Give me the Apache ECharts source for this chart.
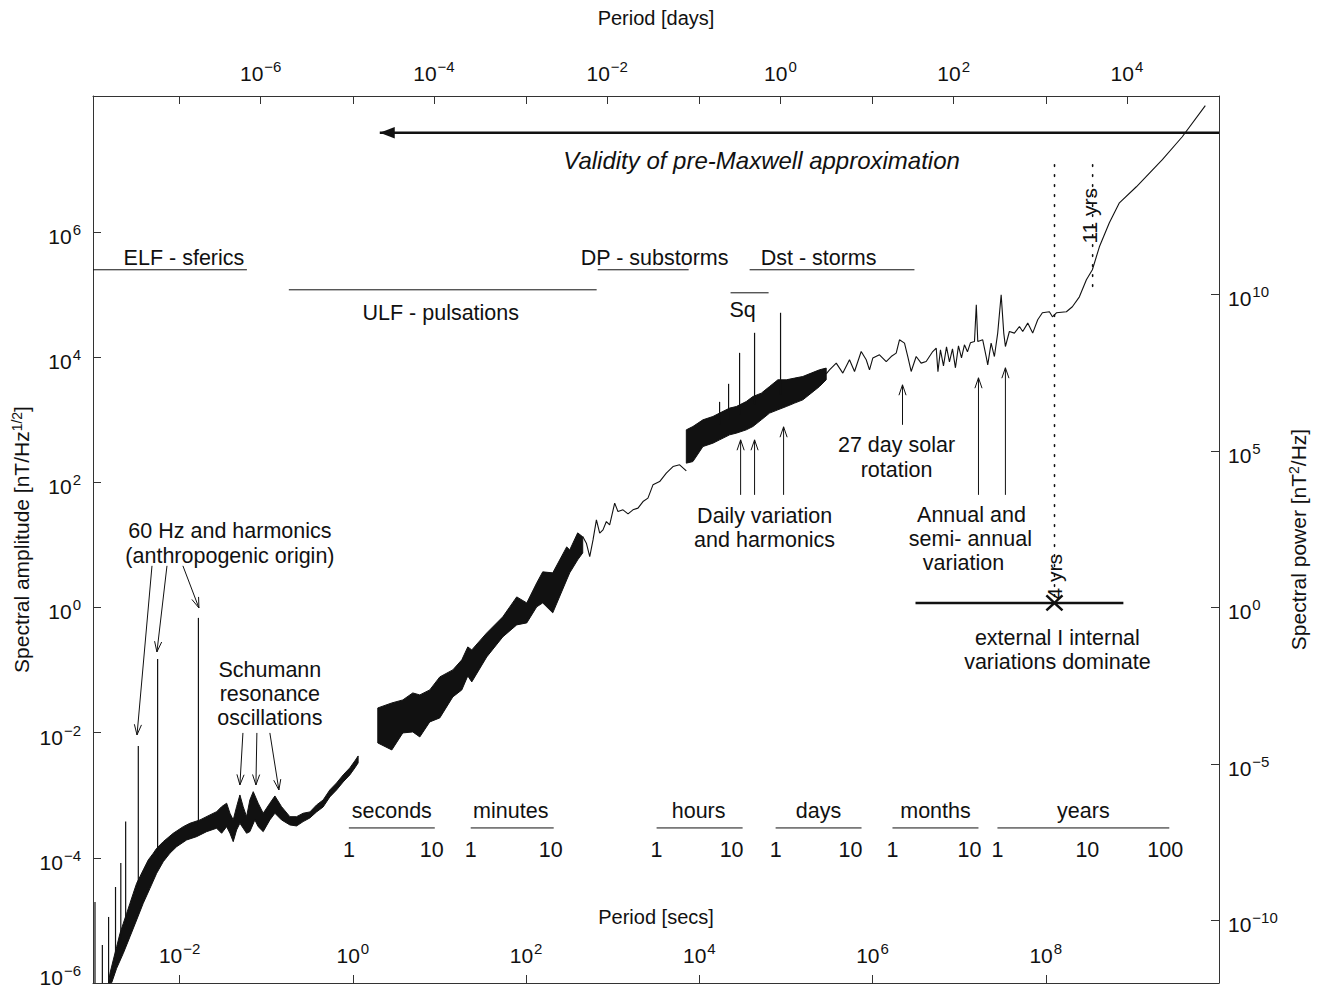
<!DOCTYPE html>
<html>
<head>
<meta charset="utf-8">
<title>Geomagnetic spectrum</title>
<script src="https://cdn.jsdelivr.net/npm/echarts/dist/echarts.min.js"></script>
<style>
  html, body { margin: 0; padding: 0; background: #ffffff; }
  #chart { width: 1321px; height: 990px; }
</style>
</head>
<body>
<div id="chart"></div>
<script>
// All values are log10 exponents:
// x = log10(period / s), y = log10(spectral amplitude / nT Hz^-1/2)

// ---- axis ticks (exponents) ----
const secTicks = [-2, 0, 2, 4, 6, 8];
const dayTicks = [-6, -4, -2, 0, 2, 4];
const ampTicks = [-6, -4, -2, 0, 2, 4, 6];
const ampLabelTicks = [-4, -2, 0, 2, 4, 6];
const ampCornerLabel = [[-3, -6]];          // the 10^-6 label sitting at the bottom-left corner
const powTicks = [-10, -5, 0, 5, 10];
const LOG_SEC_PER_DAY = 4.9365;

// ---- spectrum: ELF / Schumann band (upper and lower envelope) ----
const elfBandUpper = [
  [-2.820,-6.000],[-2.804,-5.845],[-2.766,-5.632],[-2.727,-5.420],[-2.688,-5.206],[-2.650,-5.046],
  [-2.611,-4.886],[-2.573,-4.726],[-2.535,-4.567],[-2.496,-4.407],[-2.458,-4.301],[-2.420,-4.194],
  [-2.362,-4.034],[-2.304,-3.927],[-2.265,-3.848],[-2.189,-3.742],[-2.074,-3.608],[-1.958,-3.502],
  [-1.881,-3.448],[-1.765,-3.395],[-1.650,-3.315],[-1.573,-3.263],
  [-1.515,-3.183],[-1.457,-3.128],[-1.419,-3.288],[-1.381,-3.395],[-1.342,-3.183],[-1.304,-2.996],
  [-1.266,-3.183],[-1.227,-3.343],[-1.189,-3.076],[-1.150,-2.943],[-1.093,-3.128],[-1.035,-3.288],
  [-0.958,-3.128],[-0.900,-3.012],[-0.823,-3.183],[-0.727,-3.343],[-0.650,-3.343],[-0.574,-3.288],
  [-0.496,-3.267],[-0.419,-3.156],[-0.343,-3.076],[-0.266,-2.916],[-0.188,-2.804],[-0.112,-2.676],
  [-0.035,-2.564],[0.023,-2.452],[0.061,-2.373]
];
const elfBandLower = [
  [-2.820,-6.000],[-2.784,-5.995],[-2.727,-5.765],[-2.650,-5.525],[-2.573,-5.260],[-2.496,-4.993],
  [-2.420,-4.726],[-2.342,-4.487],[-2.265,-4.247],[-2.189,-4.062],[-2.112,-3.927],[-2.034,-3.822],
  [-1.919,-3.715],[-1.804,-3.662],[-1.688,-3.582],
  [-1.573,-3.528],[-1.515,-3.608],[-1.457,-3.502],[-1.419,-3.608],[-1.381,-3.742],[-1.342,-3.555],
  [-1.304,-3.448],[-1.227,-3.608],[-1.189,-3.582],[-1.131,-3.395],[-1.093,-3.502],[-1.035,-3.582],
  [-0.958,-3.395],[-0.900,-3.288],[-0.823,-3.395],[-0.727,-3.475],[-0.650,-3.491],[-0.574,-3.422],
  [-0.496,-3.363],[-0.419,-3.267],[-0.343,-3.188],[-0.266,-3.028],[-0.188,-2.916],[-0.112,-2.788],
  [-0.035,-2.676],[0.023,-2.564],[0.061,-2.484]
];

// ---- spectrum: ULF band [logT, upper, lower] ----
const ulfBand = [
  [0.288,-1.606,-2.165],[0.450,-1.526,-2.277],[0.577,-1.478,-2.005],[0.692,-1.366,-1.989],
  [0.773,-1.398,-2.069],[0.888,-1.318,-1.829],[1.004,-1.110,-1.765],[1.154,-0.998,-1.430],
  [1.258,-0.838,-1.318],[1.327,-0.631,-1.094],[1.373,-0.679,-1.190],[1.546,-0.407,-0.791],
  [1.731,-0.151,-0.471],[1.892,0.168,-0.279],[2.008,0.072,-0.247],[2.123,0.392,0.009],
  [2.192,0.568,0.072],[2.308,0.552,-0.087],[2.469,0.967,0.440],[2.504,0.919,0.552],
  [2.596,1.191,0.760],[2.654,1.127,0.871]
];
// ---- spectrum: thin section between ULF and daily bands ----
const pulsationTail = [
  [2.654,1.132],[2.696,1.026],[2.735,0.812],[2.773,1.079],[2.812,1.399],[2.850,1.186],[2.888,1.239],
  [2.927,1.372],[2.965,1.319],[3.023,1.666],[3.061,1.531],[3.119,1.559],[3.177,1.495],[3.234,1.559],
  [3.292,1.586],[3.350,1.691],[3.407,1.746],[3.465,1.958],[3.542,2.011],[3.619,2.145],[3.696,2.250],
  [3.773,2.278],[3.850,2.182]
];
// ---- spectrum: hours-days band [logT, upper, lower] ----
const dailyBand = [
  [3.850,2.837,2.305],[3.926,2.890,2.330],[4.042,2.997,2.570],[4.157,3.050,2.624],[4.234,3.104,2.677],
  [4.350,3.184,2.757],[4.427,3.209,2.784],[4.542,3.289,2.837],[4.619,3.369,2.890],[4.716,3.423,2.997],
  [4.811,3.529,3.104],[4.907,3.636,3.157],[5.004,3.636,3.209],[5.100,3.663,3.264],[5.195,3.689,3.316],
  [5.292,3.743,3.423],[5.388,3.796,3.529],[5.465,3.823,3.636]
];
// ---- spectrum: long periods ----
const longPeriodLine = [
  [5.465,3.732],[5.503,3.796],[5.581,3.903],[5.657,3.743],[5.734,3.956],[5.792,3.769],[5.869,4.088],
  [5.927,3.956],[5.965,3.796],[6.003,3.983],[6.080,4.035],[6.158,3.928],[6.215,4.008],[6.273,4.063],
  [6.311,4.275],[6.369,4.222],[6.407,4.008],[6.446,3.769],[6.504,4.008],[6.561,3.903],[6.619,3.928],
  [6.695,4.088],[6.735,4.143],[6.755,3.764],[6.784,4.115],[6.819,3.860],[6.854,4.163],[6.888,3.924],
  [6.923,4.131],[6.957,3.828],[6.992,4.179],[7.027,3.988],[7.061,4.195],[7.096,4.083],[7.130,4.227],
  [7.177,4.248],[7.198,4.834],[7.215,4.248],[7.272,4.275],[7.312,4.008],[7.330,3.876],[7.369,4.222],
  [7.407,4.008],[7.445,4.382],[7.485,4.994],[7.515,4.382],[7.534,4.168],[7.580,4.408],[7.638,4.382],
  [7.696,4.488],[7.734,4.408],[7.792,4.542],[7.849,4.382],[7.907,4.595],[7.961,4.707],[8.042,4.723],
  [8.077,4.643],[8.123,4.707],[8.238,4.723],[8.307,4.803],[8.388,4.962],[8.469,5.234],[8.538,5.394],
  [8.619,5.761],[8.734,6.145],[8.850,6.464],[9.046,6.720],[9.346,7.152],[9.576,7.519],[9.842,8.015]
];
// ---- spectral lines [logT, base, top] ----
const harmonicSpikes = [
  [-2.977,-6.000,-4.706],[-2.892,-6.000,-5.393],[-2.820,-6.000,-4.945],[-2.740,-5.632,-4.466],
  [-2.679,-5.313,-4.082],[-2.623,-5.073,-3.422],[-2.477,-4.514,-2.213],[-2.254,-4.034,-0.823],
  [-1.783,-3.523,-0.167]
];
const dailySpikes = [
  [4.234,2.917,3.284],[4.338,2.997,3.572],[4.465,3.077,4.067],[4.638,3.236,4.387],[4.938,3.396,4.707]
];

// ---- annotations (same log units) ----
const rangeBars = [
  [-3.000,5.394,-1.223,5.394],[-0.739,5.074,2.815,5.074],[2.827,5.394,3.877,5.394],
  [4.581,5.394,6.484,5.394],[4.361,5.026,4.800,5.026],
  [-0.046,-3.523,0.946,-3.523],[1.361,-3.523,2.319,-3.523],[3.507,-3.523,4.500,-3.523],
  [4.881,-3.523,5.873,-3.523],[6.230,-3.523,7.223,-3.523],[7.442,-3.523,9.426,-3.523]
];
const pointerArrows = [
  [-2.319,0.664,-2.492,-2.037],[-2.146,0.664,-2.262,-0.711],[-1.962,0.664,-1.777,-0.008],
  [-1.269,-2.005,-1.304,-2.836],[-1.108,-2.005,-1.119,-2.836],[-0.958,-2.005,-0.854,-2.916],
  [4.477,1.798,4.477,2.677],[4.638,1.798,4.638,2.677],[4.973,1.798,4.973,2.885],
  [6.346,2.917,6.346,3.556],[7.223,1.798,7.223,3.668],[7.534,1.798,7.534,3.828]
];
const validityArrow = [[10.000,7.583,0.311,7.583]];
const boundaryArrows = [[6.496,0.072,8.100,0.072],[8.896,0.072,8.100,0.072]];
const cycleLines = [[8.101,7.072,8.101,0.120],[8.541,7.072,8.541,5.074]];

const noteTexts = ['ELF - sferics','ULF - pulsations','DP - substorms','Dst - storms','Sq',
  '60 Hz and harmonics','(anthropogenic origin)','Schumann','resonance','oscillations',
  'Daily variation','and harmonics','27 day solar','rotation','Annual and','semi- annual','variation',
  'external I internal','variations dominate',
  'seconds','minutes','hours','days','months','years',
  '1','10','1','10','1','10','1','10','1','10','1','10','100'];
const notePos = [[-1.950,5.586],[1.015,4.707],[3.484,5.586],[5.377,5.586],[4.500,4.755],
  [-1.419,1.223],[-1.419,0.823],[-0.958,-0.998],[-0.958,-1.382],[-0.958,-1.765],
  [4.754,1.463],[4.754,1.079],[6.277,2.597],[6.277,2.198],[7.142,1.479],[7.130,1.095],[7.050,0.712],
  [8.134,-0.487],[8.134,-0.870],
  [0.450,-3.251],[1.823,-3.251],[3.992,-3.251],[5.377,-3.251],[6.727,-3.251],[8.434,-3.251],
  [-0.046,-3.875],[0.911,-3.875],[1.361,-3.875],[2.284,-3.875],[3.507,-3.875],[4.373,-3.875],
  [4.881,-3.875],[5.746,-3.875],[6.230,-3.875],[7.119,-3.875],[7.442,-3.875],[8.480,-3.875],[9.380,-3.875]];
const italicTexts = ['Validity of pre-Maxwell approximation'];
const italicPos = [[4.719,7.136]];
const cycleTexts = ['4 yrs','11 yrs'];
const cyclePos = [[8.100,0.488],[8.503,6.257]];

// ---------------------------------------------------------------
const FONT = '"Liberation Sans", Arial, Helvetica, sans-serif';
const INK = '#111111';
const AXIS = '#333333';

const supRich = {
  b: { fontFamily: FONT, fontSize: 21, color: INK, verticalAlign: 'bottom', lineHeight: 30 },
  s: { fontFamily: FONT, fontSize: 15, color: INK, verticalAlign: 'bottom', lineHeight: 30, padding: [0, 0, 10, 1] }
};
const cornerRich = {
  b: { fontFamily: FONT, fontSize: 21, fill: INK, verticalAlign: 'bottom' },
  s: { fontFamily: FONT, fontSize: 15, fill: INK, verticalAlign: 'bottom', padding: [0, 0, 10, 1] }
};
function pow10(v) {
  const n = Math.round(v);
  return '{b|10}{s|' + (n < 0 ? '\u2212' + (-n) : String(n)) + '}';
}
const nameRich = {
  n: { fontFamily: FONT, fontSize: 21, color: INK },
  s: { fontFamily: FONT, fontSize: 14, color: INK, padding: [0, 0, 9, 0] }
};

function bandSeries(upper, lower) {
  return {
    type: 'custom', xAxisIndex: 0, yAxisIndex: 0, silent: true, z: 3,
    data: [[upper[0][0], upper[0][1]]],
    renderItem: function (params, api) {
      const pts = upper.map(p => api.coord(p))
        .concat(lower.slice().reverse().map(p => api.coord(p)));
      return { type: 'polygon', shape: { points: pts },
        style: { fill: INK, stroke: INK, lineWidth: 1 } };
    }
  };
}
function upperOf(b) { return b.map(r => [r[0], r[1]]); }
function lowerOf(b) { return b.map(r => [r[0], r[2]]); }

function lineSeries(pts) {
  return { type: 'line', xAxisIndex: 0, yAxisIndex: 0, data: pts, symbol: 'none', silent: true, z: 3,
    lineStyle: { color: INK, width: 1.1 }, animation: false };
}
function spikeSeries(rows) {
  return {
    type: 'custom', xAxisIndex: 0, yAxisIndex: 0, silent: true, z: 3, data: rows,
    encode: { x: 0, y: [1, 2] },
    renderItem: function (params, api) {
      const a = api.coord([api.value(0), api.value(1)]);
      const b = api.coord([api.value(0), api.value(2)]);
      return { type: 'line', shape: { x1: a[0], y1: a[1], x2: b[0], y2: b[1] },
        style: { stroke: INK, lineWidth: 1.2 } };
    }
  };
}
function segSeries(rows, o) {
  return {
    type: 'custom', xAxisIndex: 0, yAxisIndex: 0, silent: true, z: 4, data: rows,
    encode: { x: [0, 2], y: [1, 3] },
    renderItem: function (params, api) {
      const a = api.coord([api.value(0), api.value(1)]);
      const b = api.coord([api.value(2), api.value(3)]);
      const kids = [{ type: 'line', shape: { x1: a[0], y1: a[1], x2: b[0], y2: b[1] },
        style: { stroke: INK, lineWidth: o.width, lineDash: o.dash || null, lineCap: o.cap || 'butt' } }];
      if (o.head) {
        const ang = Math.atan2(b[1] - a[1], b[0] - a[0]);
        const L = o.headLen, H = o.headAngle;
        const p1 = [b[0] - L * Math.cos(ang - H), b[1] - L * Math.sin(ang - H)];
        const p2 = [b[0] - L * Math.cos(ang + H), b[1] - L * Math.sin(ang + H)];
        if (o.head === 'open') {
          kids.push({ type: 'polyline', shape: { points: [p1, b, p2] },
            style: { stroke: INK, lineWidth: o.width, fill: null } });
        } else {
          kids.push({ type: 'polygon', shape: { points: [p1, b, p2] }, style: { fill: INK } });
        }
      }
      return { type: 'group', children: kids };
    }
  };
}
function textSeries(texts, pos, font, rotation) {
  return {
    type: 'custom', xAxisIndex: 0, yAxisIndex: 0, silent: true, z: 5, data: pos,
    renderItem: function (params, api) {
      const p = api.coord([api.value(0), api.value(1)]);
      return { type: 'text', x: p[0], y: p[1], rotation: rotation || 0,
        style: { text: texts[params.dataIndex], font: font, fill: INK,
          align: 'center', verticalAlign: 'middle', textAlign: 'center', textVerticalAlign: 'middle' } };
    }
  };
}
// corner tick label of the amplitude axis, kept fully inside the canvas
const cornerLabelSeries = {
  type: 'custom', xAxisIndex: 0, yAxisIndex: 0, silent: true, z: 5, data: ampCornerLabel,
  renderItem: function (params, api) {
    const p = api.coord([api.value(0), api.value(1)]);
    return { type: 'text', x: p[0] - 12, y: p[1] + 5,
      style: { text: pow10(api.value(1)), rich: cornerRich, fill: INK,
        align: 'right', verticalAlign: 'bottom', textAlign: 'right', textVerticalAlign: 'bottom' } };
  }
};

const chart = echarts.init(document.getElementById('chart'), null, { renderer: 'svg' });
const option = {
  animation: false,
  backgroundColor: '#ffffff',
  textStyle: { fontFamily: FONT },
  grid: { left: 93, right: 102, top: 96, bottom: 7, containLabel: false, outerBoundsMode: 'none' },
  xAxis: [
    { type: 'value', position: 'bottom', min: -3, max: 10,
      axisLine: { show: true, onZero: false, lineStyle: { color: AXIS, width: 1 } },
      axisTick: { show: true, inside: true, length: 8, customValues: secTicks, lineStyle: { color: AXIS } },
      axisLabel: { show: true, inside: true, margin: 17, customValues: secTicks, formatter: pow10, rich: supRich },
      splitLine: { show: false },
      name: 'Period [secs]', nameLocation: 'middle', nameGap: -76, nameMoveOverlap: false,
      nameTextStyle: { fontFamily: FONT, fontSize: 20, color: INK } },
    { type: 'value', position: 'top', min: -3 - LOG_SEC_PER_DAY, max: 10 - LOG_SEC_PER_DAY,
      axisLine: { show: true, onZero: false, lineStyle: { color: AXIS, width: 1 } },
      axisTick: { show: true, inside: true, length: 8, customValues: dayTicks, lineStyle: { color: AXIS } },
      axisLabel: { show: true, margin: 12, customValues: dayTicks, formatter: pow10, rich: supRich },
      splitLine: { show: false },
      name: 'Period [days]', nameLocation: 'middle', nameGap: 68, nameMoveOverlap: false,
      nameTextStyle: { fontFamily: FONT, fontSize: 20, color: INK } },
    { type: 'value', position: 'top', min: -3, max: 10,
      axisLine: { show: false, onZero: false },
      axisTick: { show: true, inside: true, length: 8, customValues: secTicks, lineStyle: { color: AXIS } },
      axisLabel: { show: false }, splitLine: { show: false } }
  ],
  yAxis: [
    { type: 'value', position: 'left', min: -6, max: 8.17,
      axisLine: { show: true, onZero: false, lineStyle: { color: AXIS, width: 1 } },
      axisTick: { show: true, inside: true, length: 8, customValues: ampTicks, lineStyle: { color: AXIS } },
      axisLabel: { show: true, margin: 12, customValues: ampLabelTicks, formatter: pow10, rich: supRich },
      splitLine: { show: false },
      name: '{n|Spectral amplitude [nT/Hz}{s|1/2}{n|]}', nameLocation: 'middle', nameGap: 60, nameRotate: 90,
      nameMoveOverlap: false, nameTextStyle: { rich: nameRich } },
    { type: 'value', position: 'right', min: -12, max: 16.34,
      axisLine: { show: true, onZero: false, lineStyle: { color: AXIS, width: 1 } },
      axisTick: { show: true, inside: true, length: 8, customValues: powTicks, lineStyle: { color: AXIS } },
      axisLabel: { show: true, margin: 9, customValues: powTicks, formatter: pow10, rich: supRich },
      splitLine: { show: false },
      name: '{n|Spectral power [nT}{s|2}{n|/Hz]}', nameLocation: 'middle', nameGap: 68, nameRotate: 90,
      nameMoveOverlap: false, nameTextStyle: { rich: nameRich } }
  ],
  series: [
    bandSeries(elfBandUpper, elfBandLower),
    bandSeries(upperOf(ulfBand), lowerOf(ulfBand)),
    bandSeries(upperOf(dailyBand), lowerOf(dailyBand)),
    lineSeries(pulsationTail),
    lineSeries(longPeriodLine),
    spikeSeries(harmonicSpikes),
    spikeSeries(dailySpikes),
    segSeries(rangeBars, { width: 1 }),
    segSeries(pointerArrows, { width: 1, head: 'open', headLen: 11, headAngle: 0.33 }),
    segSeries(validityArrow, { width: 2.5, head: 'filled', headLen: 16, headAngle: 0.36 }),
    segSeries(boundaryArrows, { width: 2.5, head: 'open', headLen: 11, headAngle: 0.75 }),
    segSeries(cycleLines, { width: 1.6, dash: [1.6, 8.4], cap: 'round' }),
    textSeries(noteTexts, notePos, '21.5px ' + FONT),
    textSeries(italicTexts, italicPos, 'italic 24px ' + FONT),
    textSeries(cycleTexts, cyclePos, '21px ' + FONT, Math.PI / 2),
    cornerLabelSeries
  ]
};
chart.setOption(option);
</script>
</body>
</html>
